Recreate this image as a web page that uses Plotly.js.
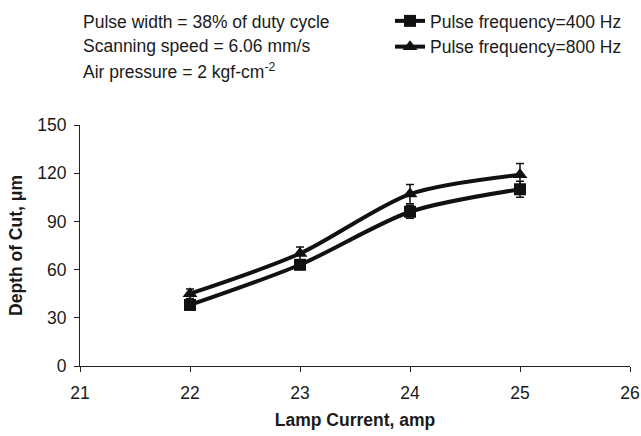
<!DOCTYPE html>
<html>
<head>
<meta charset="utf-8">
<script src="https://cdn.plot.ly/plotly-3.0.1.min.js"></script>
<style>html,body{margin:0;padding:0;background:#fff;}#chart{width:641px;height:436px;}</style>
</head>
<body>
<div id="chart"></div>
<script>
const lampCurrent = [22, 23, 24, 25];
const depth400 = [38, 63, 96, 110];
const err400 = [3, 3, 4, 5];
const depth800 = [45, 70, 107, 119];
const err800 = [3, 4, 6, 7];
const seriesNames = ['Pulse frequency=400 Hz', 'Pulse frequency=800 Hz'];
const noteLines = ['Pulse width = 38% of duty cycle', 'Scanning speed = 6.06 mm/s', 'Air pressure = 2 kgf-cm<sup>-2</sup>'];
const yTicks = [0, 30, 60, 90, 120, 150];
const xTicks = [21, 22, 23, 24, 25, 26];

const font = {family: 'Liberation Sans, Arial, sans-serif', color: '#1a1a1a', size: 17.5};
const titleFont = {family: 'Liberation Sans, Arial, sans-serif', color: '#1a1a1a', size: 17.5};

const traces = [
  {
    x: lampCurrent, y: depth400, name: seriesNames[0], type: 'scatter', mode: 'lines+markers',
    line: {color: '#111', width: 4, shape: 'spline', smoothing: 0.8},
    marker: {symbol: 'square', size: 12, color: '#111'},
    error_y: {type: 'data', array: err400, visible: true, color: '#111', thickness: 1.5, width: 4}
  },
  {
    x: lampCurrent, y: depth800, name: seriesNames[1], type: 'scatter', mode: 'lines+markers',
    line: {color: '#111', width: 4, shape: 'spline', smoothing: 0.8},
    marker: {symbol: 'triangle-up', size: 13, color: '#111'},
    error_y: {type: 'data', array: err800, visible: true, color: '#111', thickness: 1.5, width: 4}
  }
];

const plotTop = 125, plotBottom = 366;
const plotH = plotBottom - plotTop;
const plotL = 80, plotR = 630;
const noteY = [22, 46, 71];
const annotations = noteLines.map((t, i) => ({
  text: t, xref: 'paper', yref: 'paper', x: 0.0, y: (plotBottom - noteY[i]) / plotH,
  xanchor: 'left', yanchor: 'middle', showarrow: false, font: font, xshift: 1
}));

const layout = {
  width: 641, height: 436,
  margin: {l: plotL, r: 641 - plotR, t: plotTop, b: 436 - plotBottom, autoexpand: false},
  paper_bgcolor: '#fff', plot_bgcolor: '#fff',
  font: font,
  showlegend: true,
  legend: {x: (390 - plotL) / (plotR - plotL), y: (plotBottom - 3) / plotH, xanchor: 'left', yanchor: 'top', font: font,
           bgcolor: 'rgba(0,0,0,0)', tracegroupgap: 0},
  xaxis: {
    range: [21, 26], tickvals: xTicks, ticks: 'outside', ticklen: 5, tickcolor: '#222',
    showline: true, linecolor: '#222', linewidth: 1, showgrid: false, zeroline: false,
    tickfont: font, ticklabelstandoff: 6, ticklabeloverflow: 'allow',
    title: {text: '<b>Lamp Current, amp</b>', font: titleFont, standoff: 11}
  },
  yaxis: {
    range: [0, 150], tickvals: yTicks, ticks: 'outside', ticklen: 5, tickcolor: '#222',
    showline: true, linecolor: '#222', linewidth: 1, showgrid: false, zeroline: false,
    tickfont: font, ticklabelstandoff: 4,
    title: {text: '<b>Depth of Cut, μm</b>', font: titleFont, standoff: 10}
  },
  annotations: annotations
};

Plotly.newPlot('chart', traces, layout, {displayModeBar: false, staticPlot: true});
</script>
</body>
</html>
